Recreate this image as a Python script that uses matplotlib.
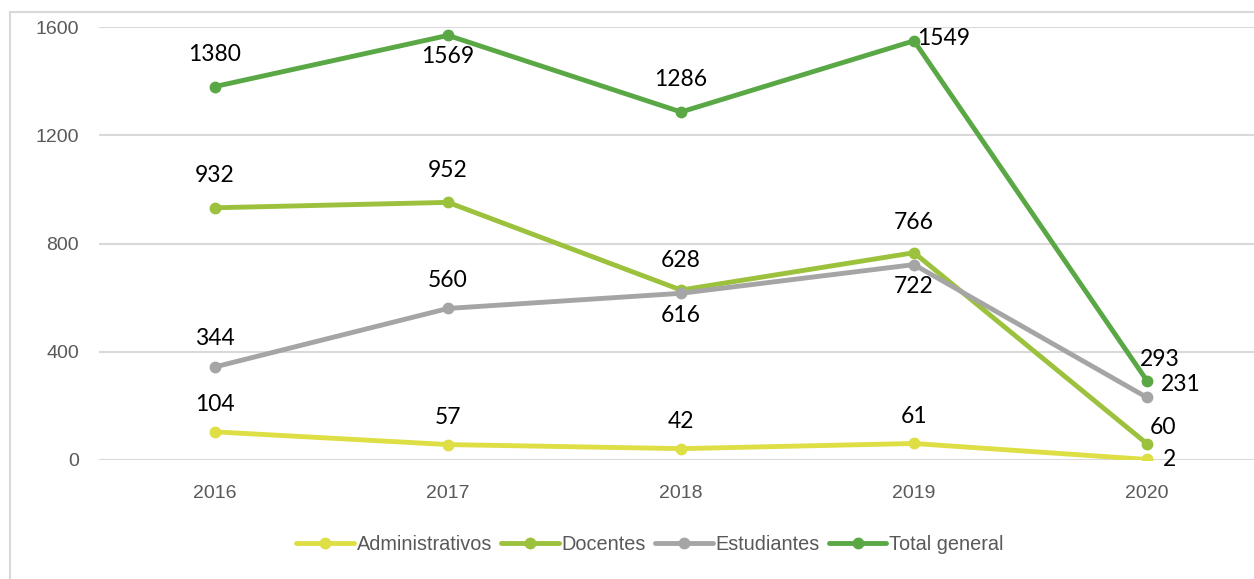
import matplotlib.pyplot as plt
from matplotlib.patches import Rectangle

years = ['2016', '2017', '2018', '2019', '2020']
administrativos = [104, 57, 42, 61, 2]
docentes = [932, 952, 628, 766, 60]
estudiantes = [344, 560, 616, 722, 231]
total_general = [1380, 1569, 1286, 1549, 293]

series_names = ['Administrativos', 'Docentes', 'Estudiantes', 'Total general']
series_values = [administrativos, docentes, estudiantes, total_general]
colors = ['#DEDE45', '#9CC13C', '#A5A5A5', '#5AA845']

# label offsets in pixels (dx, dy) per point
offsets = [
    [(0, 27), (0, 27), (0, 27), (0, 27), (22, 0)],
    [(0, 32), (0, 32), (0, 30), (0, 30), (16, 16)],
    [(0, 28), (0, 28), (0, -22), (0, -22), (34, 13)],
    [(0, 32), (0, -21), (0, 32), (30, 2), (13, 21)],
]

fig = plt.figure(figsize=(12.54, 5.79), dpi=100)
fig.patches.append(Rectangle((10 / 1254, -0.1), 1.2, (579 - 12) / 579 + 0.1,
                             transform=fig.transFigure, fill=False,
                             edgecolor='#D9D9D9', linewidth=1.5))

ax = fig.add_axes([98.5 / 1254, (579 - 460) / 579, 1 - 98.5 / 1254, (460 - 27) / 579])
x = list(range(len(years)))

for name, vals, col, offs in zip(series_names, series_values, colors, offsets):
    ax.plot(x, vals, color=col, linewidth=3.5, marker='o', markersize=7.5,
            label=name, solid_capstyle='round', zorder=3)
    for xi, v, (dx, dy) in zip(x, vals, offs):
        ax.annotate(str(v), (xi, v), xytext=(dx, dy), textcoords='offset pixels',
                    ha='center', va='center', fontsize=16.5, color='black',
                    family=['Lato', 'DejaVu Sans'], zorder=4)

ax.set_xlim(-0.5, (1254 - 215) / 233)
ax.set_ylim(0, 1600)
ax.set_yticks([0, 400, 800, 1200, 1600])
ax.set_xticks(x)
ax.set_xticklabels(years)
ax.yaxis.grid(True, color='#D9D9D9', linewidth=1.5)
ax.set_axisbelow(True)
for s in ax.spines.values():
    s.set_visible(False)
ax.tick_params(length=0, labelsize=14, labelcolor='#595959', pad=18)
ax.tick_params(axis='y', pad=14)
for lbl in ax.get_xticklabels() + ax.get_yticklabels():
    lbl.set_family(['Liberation Sans', 'DejaVu Sans'])

leg = fig.legend(loc='center', bbox_to_anchor=(650 / 1254, (579 - 544) / 579), ncol=4,
                 frameon=False, handlelength=2.9, columnspacing=0.45, handletextpad=0.15,
                 prop={'family': ['Liberation Sans', 'DejaVu Sans'], 'size': 14.3})
for t in leg.get_texts():
    t.set_color('#595959')

fig.savefig('out.png', dpi=100)
